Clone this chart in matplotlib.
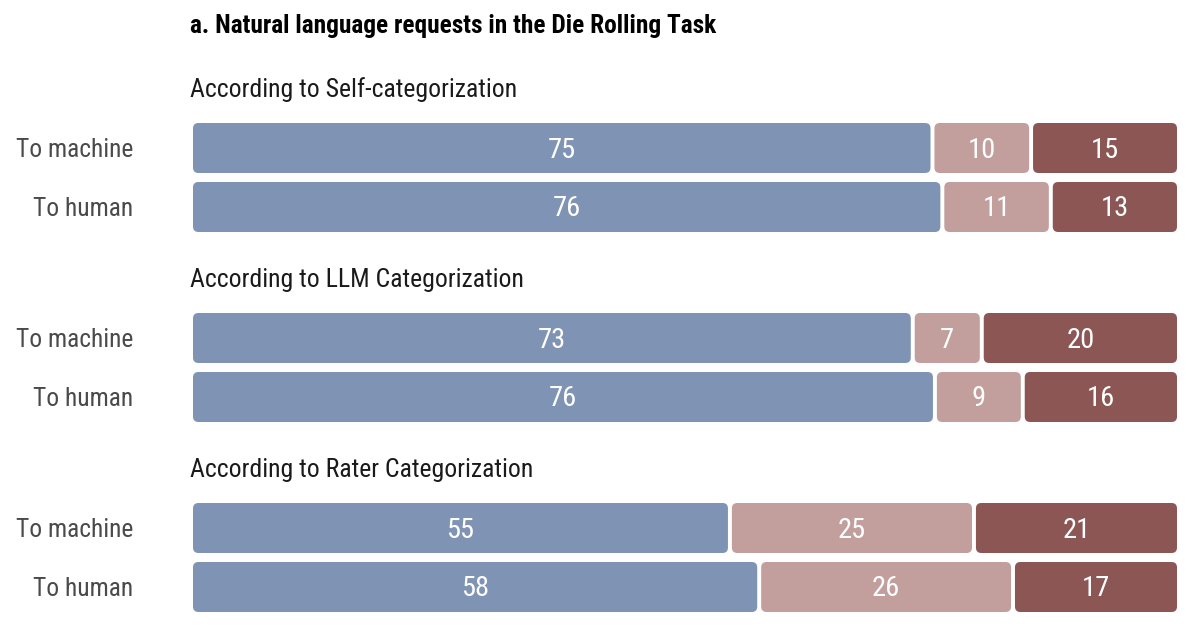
import matplotlib
matplotlib.use("Agg")
import matplotlib.pyplot as plt
from matplotlib import font_manager as fm
from matplotlib.patches import FancyBboxPatch

# ---- data ----
title = "a. Natural language requests in the Die Rolling Task"
groups = ["According to Self-categorization", "According to LLM Categorization",
          "According to Rater Categorization"]
rows = ["To machine", "To human"]
seg1 = [[75, 76], [73, 76], [55, 58]]
seg2 = [[10, 11], [7, 9], [25, 26]]
seg3 = [[15, 13], [20, 16], [21, 17]]
colors = ["#7F94B5", "#C29F9C", "#8B5654"]

# ---- font ----
names = {f.name for f in fm.fontManager.ttflist}
cond = [n for n in names if "Condensed" in n and "Roboto" in n]
if cond:
    FAM = [sorted(cond, key=len)[0], "DejaVu Sans"]
    scale = 1.0
else:
    FAM = ["Roboto", "DejaVu Sans"]
    scale = 0.86
plt.rcParams["font.family"] = FAM

W, H = 1186, 630
fig = plt.figure(figsize=(W / 100, H / 100), dpi=100)
ax = fig.add_axes([0, 0, 1, 1])
px_per_unit = 9.84
x0 = 193
ax.set_xlim(-x0 / px_per_unit, (W - x0) / px_per_unit)
ax.set_ylim(H, 0)
ax.axis("off")

bar_h = 50
gap = 0.4  # in % units
for g, gname in enumerate(groups):
    ytitle = 90 + g * 190
    ax.text(-0.3, ytitle, gname, fontsize=18.5 * scale, color="#1a1a1a",
            ha="left", va="center")
    for r, rname in enumerate(rows):
        yc = 148 + g * 190 + r * 59
        ax.text(-6.1, yc + 2, rname, fontsize=18.4 * scale, color="#4a4a4a",
                ha="right", va="center")
        vals = [seg1[g][r], seg2[g][r], seg3[g][r]]
        tot = sum(vals)
        start = 0.0
        for v, c in zip(vals, colors):
            w = v / tot * 100.2
            left = start + (gap / 2 if start > 0 else 0)
            right = start + w - gap / 2
            p = FancyBboxPatch((left, yc - bar_h / 2), right - left, bar_h,
                               boxstyle="round,pad=0,rounding_size=0.55",
                               mutation_aspect=px_per_unit,
                               facecolor=c, edgecolor="none")
            ax.add_patch(p)
            ax.text((left + right) / 2, yc + 2, str(v), fontsize=20.5 * scale,
                    color="white", ha="center", va="center")
            start += w

ax.text(-0.3, 26, title, fontsize=18.3 * scale, fontweight="bold",
        color="black", ha="left", va="center")

fig.savefig("out.png", dpi=100)
